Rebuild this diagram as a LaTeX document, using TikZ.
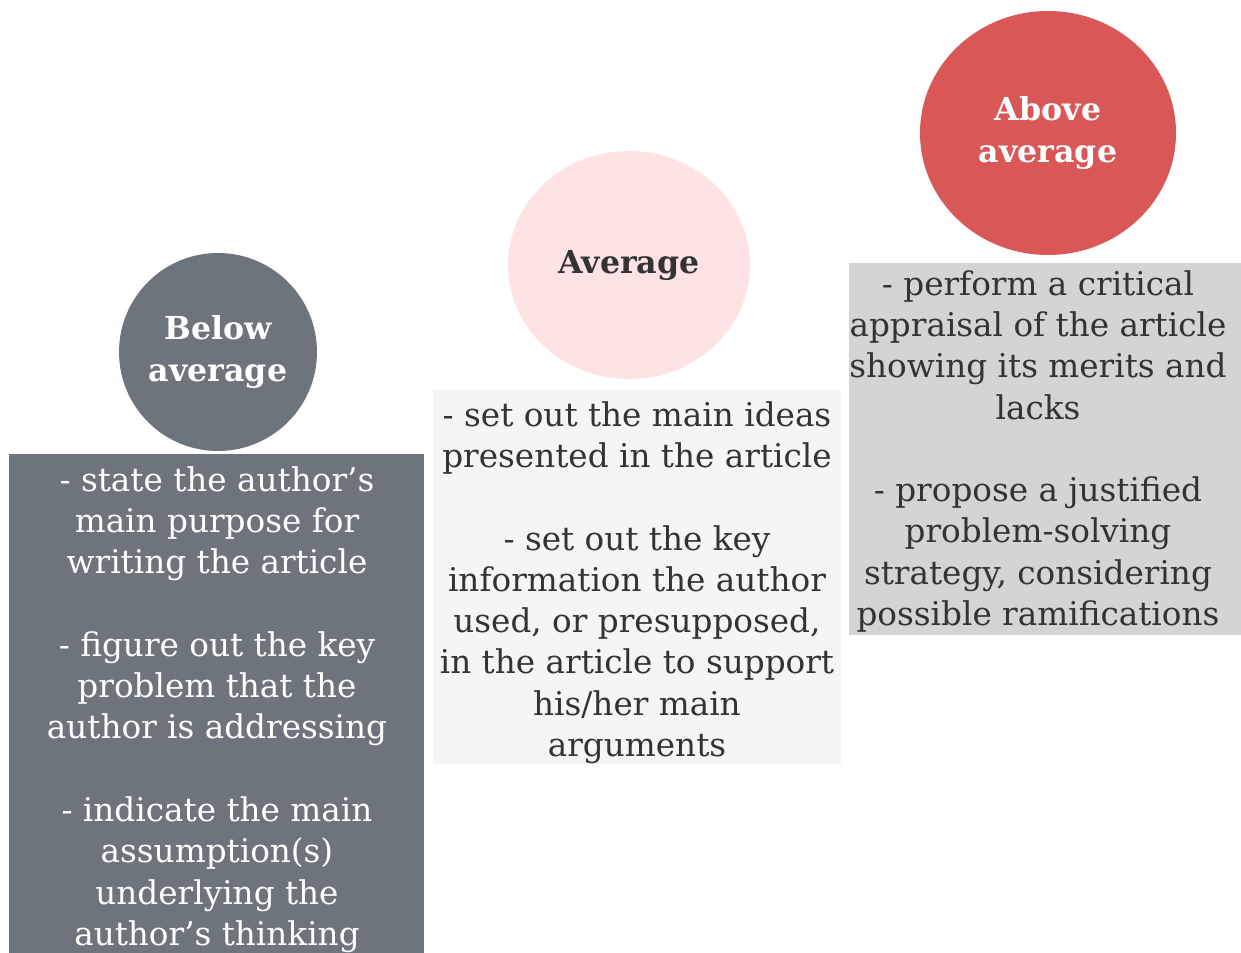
\documentclass[tikz,border=0pt]{standalone}
\usepackage{fontspec}
\setmainfont{DejaVu Serif}
\definecolor{slate}{HTML}{6E747C}
\definecolor{blush}{HTML}{FDE3E3}
\definecolor{coral}{HTML}{D95757}
\definecolor{paper}{HTML}{F5F5F5}
\definecolor{mist}{HTML}{D3D4D6}
\definecolor{ink}{HTML}{333333}
\tikzset{
  level/.style={inner sep=0pt, font=\bfseries\fontsize{18}{23.5}\selectfont, align=center},
  skill/.style={inner sep=0pt, font=\fontsize{18.6}{23.5}\selectfont, align=center},
}
\begin{document}
\begin{tikzpicture}[x=0.02cm, y=-0.02cm]
    \useasboundingbox (0,0) rectangle (1241,953);

    % Below average
    \fill[slate] (218,352) circle (99);
    \node[level, text=white] (below) at (218,352) {Below\\average};
    \fill[slate] (9,454) rectangle (424,953);
    \node[skill, text=white, anchor=north] (belowtxt) at (217,466) {- state the author's\\main purpose for\\writing the article\\[23.5pt]- figure out the key\\problem that the\\author is addressing\\[23.5pt]- indicate the main\\assumption(s)\\underlying the\\author's thinking};

    % Average
    \fill[blush] (629,265) ellipse (121 and 114);
    \node[level, text=ink] (avg) at (629,265) {Average};
    \fill[paper] (433,389) rectangle (841,764);
    \node[skill, text=ink, anchor=north] (avgtxt) at (637,401) {- set out the main ideas\\presented in the article\\[23.5pt]- set out the key\\information the author\\used, or presupposed,\\in the article to support\\his/her main\\arguments};

    % Above average
    \fill[coral] (1048,133) ellipse (128 and 122);
    \node[level, text=white] (above) at (1048,133) {Above\\average};
    \fill[mist] (849,263) rectangle (1241,635);
    \node[skill, text=ink, anchor=north] (abovetxt) at (1038,270) {- perform a critical\\appraisal of the article\\showing its merits and\\lacks\\[23.5pt]- propose a justified\\problem-solving\\strategy, considering\\possible ramifications};
\end{tikzpicture}
\end{document}
